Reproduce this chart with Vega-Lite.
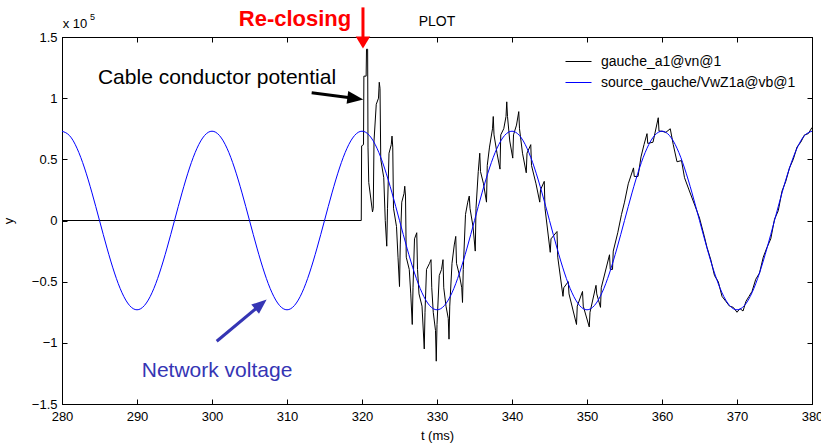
{
"$schema":"https://vega.github.io/schema/vega-lite/v6.json",
"width":750,"height":367,
"autosize":{"type":"none"},
"padding":{"left":62,"top":37,"right":9,"bottom":41},
"background":"white",
"config":{
 "font":"Liberation Sans",
 "view":{"stroke":"black","strokeWidth":1},
 "axis":{"grid":false,"domainColor":"black","tickColor":"black","labelColor":"black","titleColor":"black","labelFontSize":13,"titleFontSize":13,"titleFontWeight":"normal","tickSize":-5,"labelFlush":false,"labelOverlap":false,"labelFont":"Liberation Sans","titleFont":"Liberation Sans"}
},
"datasets":{
 "black":[
{"t":280,"y":0},{"t":319.9,"y":0},{"t":319.95,"y":0.61},{"t":320.2,"y":0.62},{"t":320.25,"y":1.18},{"t":320.55,"y":1.18},{"t":320.6,"y":1.4},{"t":320.75,"y":1.4},{"t":320.8,"y":0.6},{"t":320.9,"y":0.31},{"t":321.4,"y":0.07},{"t":321.5,"y":0.1},{"t":321.6,"y":0.65},{"t":321.9,"y":0.95},{"t":322.2,"y":1.0},{"t":322.3,"y":1.13},{"t":322.4,"y":1.08},{"t":322.5,"y":0.5},{"t":322.9,"y":0.35},{"t":323.1,"y":0.0},{"t":323.3,"y":-0.21},{"t":323.4,"y":0.1},{"t":323.6,"y":0.55},{"t":323.9,"y":0.62},{"t":324.0,"y":0.69},{"t":324.1,"y":0.6},{"t":324.2,"y":0.1},{"t":324.6,"y":-0.05},{"t":324.8,"y":-0.3},{"t":325.0,"y":-0.54},{"t":325.1,"y":-0.2},{"t":325.3,"y":0.15},{"t":325.6,"y":0.22},{"t":325.7,"y":0.28},{"t":325.8,"y":0.2},{"t":325.9,"y":-0.3},{"t":326.3,"y":-0.4},{"t":326.5,"y":-0.6},{"t":326.7,"y":-0.85},{"t":326.8,"y":-0.55},{"t":327.0,"y":-0.15},{"t":327.3,"y":-0.1},{"t":327.4,"y":-0.4},{"t":327.6,"y":-0.6},{"t":328.0,"y":-0.7},{"t":328.3,"y":-1.05},{"t":328.4,"y":-0.75},{"t":328.6,"y":-0.4},{"t":329.0,"y":-0.35},{"t":329.2,"y":-0.32},{"t":329.3,"y":-0.55},{"t":329.5,"y":-0.75},{"t":329.8,"y":-0.9},{"t":329.9,"y":-1.15},{"t":330.0,"y":-0.85},{"t":330.3,"y":-0.45},{"t":330.6,"y":-0.4},{"t":330.8,"y":-0.32},{"t":330.9,"y":-0.55},{"t":331.2,"y":-0.7},{"t":331.5,"y":-0.8},{"t":331.6,"y":-0.97},{"t":331.7,"y":-0.7},{"t":332.0,"y":-0.35},{"t":332.3,"y":-0.2},{"t":332.5,"y":-0.13},{"t":332.6,"y":-0.35},{"t":333.0,"y":-0.45},{"t":333.3,"y":-0.55},{"t":333.4,"y":-0.67},{"t":333.5,"y":-0.4},{"t":333.8,"y":0.05},{"t":334.1,"y":0.15},{"t":334.3,"y":0.2},{"t":334.4,"y":0.1},{"t":334.8,"y":-0.05},{"t":335.1,"y":-0.25},{"t":335.2,"y":0.1},{"t":335.5,"y":0.4},{"t":335.7,"y":0.55},{"t":335.8,"y":0.4},{"t":336.2,"y":0.3},{"t":336.6,"y":0.15},{"t":336.7,"y":0.45},{"t":337.0,"y":0.6},{"t":337.4,"y":0.75},{"t":337.5,"y":0.85},{"t":337.6,"y":0.7},{"t":338.0,"y":0.55},{"t":338.4,"y":0.42},{"t":338.5,"y":0.7},{"t":338.9,"y":0.75},{"t":339.2,"y":0.85},{"t":339.3,"y":0.97},{"t":339.4,"y":0.85},{"t":339.7,"y":0.65},{"t":340.1,"y":0.51},{"t":340.2,"y":0.7},{"t":340.6,"y":0.78},{"t":340.9,"y":0.89},{"t":341.0,"y":0.75},{"t":341.4,"y":0.55},{"t":341.9,"y":0.39},{"t":342.0,"y":0.55},{"t":342.5,"y":0.62},{"t":342.6,"y":0.45},{"t":343.2,"y":0.3},{"t":343.7,"y":0.15},{"t":343.8,"y":0.25},{"t":344.3,"y":0.32},{"t":344.4,"y":0.1},{"t":345.1,"y":-0.26},{"t":345.2,"y":-0.15},{"t":346.0,"y":-0.09},{"t":346.1,"y":-0.3},{"t":346.8,"y":-0.62},{"t":346.9,"y":-0.55},{"t":347.5,"y":-0.5},{"t":347.6,"y":-0.6},{"t":348.6,"y":-0.85},{"t":348.7,"y":-0.7},{"t":349.4,"y":-0.58},{"t":349.5,"y":-0.7},{"t":350.3,"y":-0.87},{"t":350.4,"y":-0.75},{"t":351.2,"y":-0.53},{"t":351.3,"y":-0.6},{"t":351.8,"y":-0.71},{"t":351.9,"y":-0.55},{"t":353.0,"y":-0.28},{"t":353.1,"y":-0.4},{"t":353.4,"y":-0.4},{"t":353.5,"y":-0.25},{"t":354.1,"y":-0.1},{"t":354.6,"y":0.05},{"t":355.0,"y":0.15},{"t":355.5,"y":0.3},{"t":356.2,"y":0.43},{"t":356.3,"y":0.36},{"t":356.8,"y":0.36},{"t":357.2,"y":0.52},{"t":357.6,"y":0.62},{"t":358.0,"y":0.71},{"t":358.1,"y":0.63},{"t":358.8,"y":0.64},{"t":359.5,"y":0.84},{"t":359.6,"y":0.73},{"t":360.0,"y":0.73},{"t":360.5,"y":0.72},{"t":361.1,"y":0.75},{"t":361.5,"y":0.62},{"t":362.0,"y":0.48},{"t":362.6,"y":0.49},{"t":363.0,"y":0.35},{"t":363.6,"y":0.25},{"t":364.4,"y":0.12},{"t":365.0,"y":0.02},{"t":365.6,"y":-0.12},{"t":366.0,"y":-0.22},{"t":366.5,"y":-0.32},{"t":367.0,"y":-0.45},{"t":367.5,"y":-0.5},{"t":368.0,"y":-0.62},{"t":368.5,"y":-0.66},{"t":369.0,"y":-0.7},{"t":369.5,"y":-0.71},{"t":370.0,"y":-0.75},{"t":370.4,"y":-0.72},{"t":370.8,"y":-0.74},{"t":371.2,"y":-0.66},{"t":371.6,"y":-0.62},{"t":372.0,"y":-0.58},{"t":372.5,"y":-0.48},{"t":373.0,"y":-0.43},{"t":373.5,"y":-0.3},{"t":374.0,"y":-0.22},{"t":374.5,"y":-0.15},{"t":375.0,"y":0.01},{"t":375.5,"y":0.08},{"t":376.0,"y":0.24},{"t":376.5,"y":0.32},{"t":377.0,"y":0.43},{"t":377.5,"y":0.5},{"t":378.0,"y":0.6},{"t":378.5,"y":0.64},{"t":379.0,"y":0.7},{"t":379.5,"y":0.71},{"t":380.0,"y":0.76}
 ],
 "blue":[
{"t":280,"y":0.73},{"t":281,"y":0.6943},{"t":282,"y":0.5906},{"t":283,"y":0.4291},{"t":284,"y":0.2256},{"t":285,"y":0},{"t":286,"y":-0.2256},{"t":287,"y":-0.4291},{"t":288,"y":-0.5906},{"t":289,"y":-0.6943},
{"t":290,"y":-0.73},{"t":291,"y":-0.6943},{"t":292,"y":-0.5906},{"t":293,"y":-0.4291},{"t":294,"y":-0.2256},{"t":295,"y":0},{"t":296,"y":0.2256},{"t":297,"y":0.4291},{"t":298,"y":0.5906},{"t":299,"y":0.6943},
{"t":300,"y":0.73},{"t":301,"y":0.6943},{"t":302,"y":0.5906},{"t":303,"y":0.4291},{"t":304,"y":0.2256},{"t":305,"y":0},{"t":306,"y":-0.2256},{"t":307,"y":-0.4291},{"t":308,"y":-0.5906},{"t":309,"y":-0.6943},
{"t":310,"y":-0.73},{"t":311,"y":-0.6943},{"t":312,"y":-0.5906},{"t":313,"y":-0.4291},{"t":314,"y":-0.2256},{"t":315,"y":0},{"t":316,"y":0.2256},{"t":317,"y":0.4291},{"t":318,"y":0.5906},{"t":319,"y":0.6943},
{"t":320,"y":0.73},{"t":321,"y":0.6943},{"t":322,"y":0.5906},{"t":323,"y":0.4291},{"t":324,"y":0.2256},{"t":325,"y":0},{"t":326,"y":-0.2256},{"t":327,"y":-0.4291},{"t":328,"y":-0.5906},{"t":329,"y":-0.6943},
{"t":330,"y":-0.73},{"t":331,"y":-0.6943},{"t":332,"y":-0.5906},{"t":333,"y":-0.4291},{"t":334,"y":-0.2256},{"t":335,"y":0},{"t":336,"y":0.2256},{"t":337,"y":0.4291},{"t":338,"y":0.5906},{"t":339,"y":0.6943},
{"t":340,"y":0.73},{"t":341,"y":0.6943},{"t":342,"y":0.5906},{"t":343,"y":0.4291},{"t":344,"y":0.2256},{"t":345,"y":0},{"t":346,"y":-0.2256},{"t":347,"y":-0.4291},{"t":348,"y":-0.5906},{"t":349,"y":-0.6943},
{"t":350,"y":-0.73},{"t":351,"y":-0.6943},{"t":352,"y":-0.5906},{"t":353,"y":-0.4291},{"t":354,"y":-0.2256},{"t":355,"y":0},{"t":356,"y":0.2256},{"t":357,"y":0.4291},{"t":358,"y":0.5906},{"t":359,"y":0.6943},
{"t":360,"y":0.73},{"t":361,"y":0.6943},{"t":362,"y":0.5906},{"t":363,"y":0.4291},{"t":364,"y":0.2256},{"t":365,"y":0},{"t":366,"y":-0.2256},{"t":367,"y":-0.4291},{"t":368,"y":-0.5906},{"t":369,"y":-0.6943},
{"t":370,"y":-0.73},{"t":371,"y":-0.6943},{"t":372,"y":-0.5906},{"t":373,"y":-0.4291},{"t":374,"y":-0.2256},{"t":375,"y":0},{"t":376,"y":0.2256},{"t":377,"y":0.4291},{"t":378,"y":0.5906},{"t":379,"y":0.6943},
{"t":380,"y":0.73}
 ]
},
"layer":[
 {"data":{"name":"black"},
  "mark":{"type":"line","strokeWidth":1,"clip":true},
  "encoding":{
   "x":{"field":"t","type":"quantitative","scale":{"domain":[280,380],"nice":false,"zero":false},
        "axis":{"orient":"bottom","values":[280,290,300,310,320,330,340,350,360,370,380],"title":"t (ms)","labelPadding":11,"titlePadding":6}},
   "y":{"field":"y","type":"quantitative","scale":{"domain":[-1.5,1.5],"nice":false,"zero":false},
        "axis":{"orient":"left","values":[-1.5,-1,-0.5,0,0.5,1,1.5],"format":"~g","title":"y","labelPadding":10,"titlePadding":16}},
   "color":{"datum":"gauche_a1@vn@1","scale":{"domain":["gauche_a1@vn@1","source_gauche/VwZ1a@vb@1"],"range":["#000000","#0000ff"]},
     "legend":{"orient":"none","legendX":503,"legendY":11,"title":null,"symbolType":"stroke","symbolSize":676,"symbolStrokeWidth":1,"labelFontSize":14,"labelColor":"black","labelOffset":9,"labelLimit":0,"padding":0,"rowPadding":0,"labelFont":"Liberation Sans"}}
  }},
 {"data":{"name":"blue"},
  "mark":{"type":"line","strokeWidth":1,"interpolate":"natural","clip":true},
  "encoding":{
   "x":{"field":"t","type":"quantitative","axis":{"orient":"top","values":[280,290,300,310,320,330,340,350,360,370,380],"labels":false,"title":null}},
   "y":{"field":"y","type":"quantitative","axis":{"orient":"right","values":[-1.5,-1,-0.5,0,0.5,1,1.5],"labels":false,"title":null}},
   "color":{"datum":"source_gauche/VwZ1a@vb@1"}
  }},
 {"data":{"values":[{"t":320.13,"y":1.742,"t2":320.13,"y2":1.49}]},
  "mark":{"type":"rule","color":"#ff0000","strokeWidth":3},
  "encoding":{"x":{"field":"t","type":"quantitative","axis":null},"y":{"field":"y","type":"quantitative","axis":null},"x2":{"field":"t2"},"y2":{"field":"y2"}}},
 {"data":{"values":[{"t":320.13,"y":1.406}]},
  "mark":{"type":"point","shape":"M0,0L-2,-1.2L-2,1.2Z","filled":true,"color":"#ff0000","opacity":1,"size":144,"angle":90,"strokeWidth":0},
  "encoding":{"x":{"field":"t","type":"quantitative","axis":null},"y":{"field":"y","type":"quantitative","axis":null}}},
 {"data":{"values":[{"t":313.29,"y":1.044,"t2":318.67,"y2":1.002}]},
  "mark":{"type":"rule","color":"#000000","strokeWidth":3},
  "encoding":{"x":{"field":"t","type":"quantitative","axis":null},"y":{"field":"y","type":"quantitative","axis":null},"x2":{"field":"t2"},"y2":{"field":"y2"}}},
 {"data":{"values":[{"t":320.17,"y":0.989}]},
  "mark":{"type":"point","shape":"M0,0L-2,-0.8L-2,0.8Z","filled":true,"color":"#000000","opacity":1,"size":256,"angle":7.4,"strokeWidth":0},
  "encoding":{"x":{"field":"t","type":"quantitative","axis":null},"y":{"field":"y","type":"quantitative","axis":null}}},
 {"data":{"values":[{"t":300.63,"y":-0.987,"t2":306.07,"y2":-0.709}]},
  "mark":{"type":"rule","color":"#3535b4","strokeWidth":3},
  "encoding":{"x":{"field":"t","type":"quantitative","axis":null},"y":{"field":"y","type":"quantitative","axis":null},"x2":{"field":"t2"},"y2":{"field":"y2"}}},
 {"data":{"values":[{"t":307.29,"y":-0.646}]},
  "mark":{"type":"point","shape":"M0,0L-2,-0.8L-2,0.8Z","filled":true,"color":"#3535b4","opacity":1,"size":225,"angle":320.2,"strokeWidth":0},
  "encoding":{"x":{"field":"t","type":"quantitative","axis":null},"y":{"field":"y","type":"quantitative","axis":null}}},
 {"data":{"values":[{"t":311.07,"y":1.594,"label":"Re-closing"}]},
  "mark":{"type":"text","color":"#ff0000","fontSize":22,"fontWeight":"bold","align":"center","baseline":"alphabetic","font":"Liberation Sans"},
  "encoding":{"x":{"field":"t","type":"quantitative","axis":null},"y":{"field":"y","type":"quantitative","axis":null},"text":{"field":"label"}}},
 {"data":{"values":[{"t":300.67,"y":1.112,"label":"Cable conductor potential"}]},
  "mark":{"type":"text","color":"#000000","fontSize":21,"align":"center","baseline":"alphabetic","font":"Liberation Sans"},
  "encoding":{"x":{"field":"t","type":"quantitative","axis":null},"y":{"field":"y","type":"quantitative","axis":null},"text":{"field":"label"}}},
 {"data":{"values":[{"t":300.67,"y":-1.276,"label":"Network voltage"}]},
  "mark":{"type":"text","color":"#3535b4","fontSize":21,"align":"center","baseline":"alphabetic","font":"Liberation Sans"},
  "encoding":{"x":{"field":"t","type":"quantitative","axis":null},"y":{"field":"y","type":"quantitative","axis":null},"text":{"field":"label"}}},
 {"data":{"values":[{"t":330,"y":1.586,"label":"PLOT"}]},
  "mark":{"type":"text","color":"#000000","fontSize":14,"align":"center","baseline":"alphabetic","font":"Liberation Sans"},
  "encoding":{"x":{"field":"t","type":"quantitative","axis":null},"y":{"field":"y","type":"quantitative","axis":null},"text":{"field":"label"}}},
 {"data":{"values":[{"t":280.1,"y":1.57,"label":"x 10"}]},
  "mark":{"type":"text","color":"#000000","fontSize":13,"align":"left","baseline":"alphabetic","font":"Liberation Sans"},
  "encoding":{"x":{"field":"t","type":"quantitative","axis":null},"y":{"field":"y","type":"quantitative","axis":null},"text":{"field":"label"}}},
 {"data":{"values":[{"t":283.73,"y":1.635,"label":"5"}]},
  "mark":{"type":"text","color":"#000000","fontSize":9,"align":"left","baseline":"alphabetic","font":"Liberation Sans"},
  "encoding":{"x":{"field":"t","type":"quantitative","axis":null},"y":{"field":"y","type":"quantitative","axis":null},"text":{"field":"label"}}}
],
"resolve":{"axis":{"x":"independent","y":"independent"}}
}
